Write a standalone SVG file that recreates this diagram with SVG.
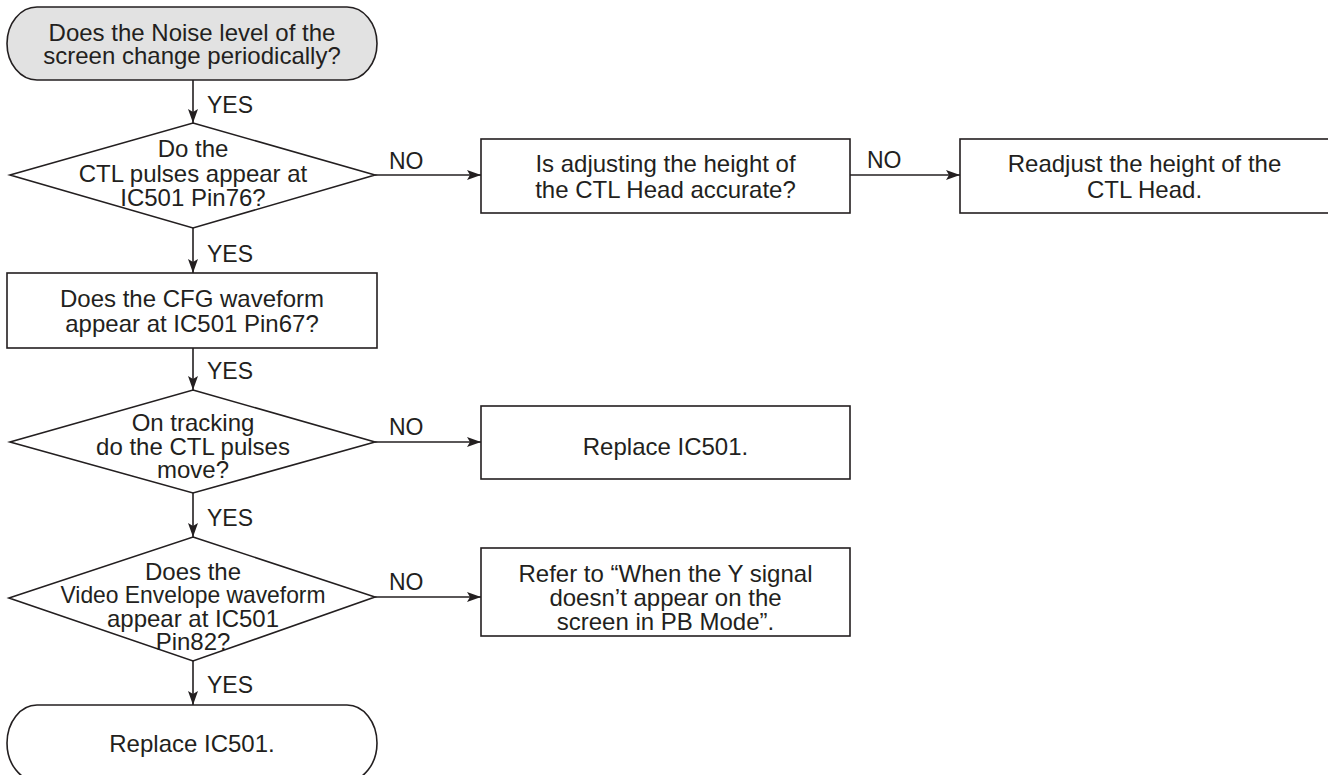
<svg xmlns="http://www.w3.org/2000/svg" width="1328" height="775" viewBox="0 0 1328 775">
<style>
.shape{fill:#ffffff;stroke:#231f20;stroke-width:1.6}
.start{fill:#e2e2e2;stroke:#231f20;stroke-width:1.6}
.t{font-family:"Liberation Sans",Arial,sans-serif;font-size:24px;fill:#231f20;text-anchor:middle}
.lbl{font-family:"Liberation Sans",Arial,sans-serif;font-size:23px;fill:#231f20}
.conn{fill:none;stroke:#231f20;stroke-width:1.6;marker-end:url(#arr)}
</style>
<defs>
<marker id="arr" viewBox="0 0 14 10" refX="14" refY="5" markerWidth="14" markerHeight="10" orient="auto" markerUnits="userSpaceOnUse">
<path d="M0,0 L14,5 L0,10 L3,5 Z" fill="#231f20"/>
</marker>
</defs>
<rect width="1328" height="775" fill="#ffffff"/>

<g id="connectors">
<line class="conn" x1="193" y1="80" x2="193" y2="123"/>
<line class="conn" x1="375" y1="175" x2="481" y2="175"/>
<line class="conn" x1="850" y1="175" x2="960" y2="175"/>
<line class="conn" x1="193" y1="228" x2="193" y2="273"/>
<line class="conn" x1="193" y1="348" x2="193" y2="390"/>
<line class="conn" x1="375" y1="442" x2="481" y2="442"/>
<line class="conn" x1="193" y1="493" x2="193" y2="537"/>
<line class="conn" x1="375" y1="597" x2="481" y2="597"/>
<line class="conn" x1="193" y1="661" x2="193" y2="705"/>
<text class="lbl" x="207" y="113">YES</text>
<text class="lbl" x="389" y="169">NO</text>
<text class="lbl" x="867" y="168">NO</text>
<text class="lbl" x="207" y="262">YES</text>
<text class="lbl" x="207" y="379">YES</text>
<text class="lbl" x="389" y="435">NO</text>
<text class="lbl" x="207" y="526">YES</text>
<text class="lbl" x="389" y="590">NO</text>
<text class="lbl" x="207" y="693">YES</text>
</g>

<g id="start">
<path class="start" d="M37,7 H347 A30,36.5 0 0 1 347,80 H37 A30,36.5 0 0 1 37,7 Z"/>
<text class="t" x="192" y="41">Does the Noise level of the</text>
<text class="t" x="192" y="64">screen change periodically?</text>
</g>

<g id="q-ctl-pulses">
<polygon class="shape" points="193,123 375,175 193,228 10,175"/>
<text class="t" x="193" y="157">Do the</text>
<text class="t" x="193" y="182">CTL pulses appear at</text>
<text class="t" x="193" y="206">IC501 Pin76?</text>
</g>

<g id="q-ctl-height">
<rect class="shape" x="481" y="139" width="369" height="74"/>
<text class="t" x="665.5" y="172">Is adjusting the height of</text>
<text class="t" x="665.5" y="198">the CTL Head accurate?</text>
</g>

<g id="readjust">
<rect class="shape" x="960" y="139" width="380" height="74"/>
<text class="t" x="1144.5" y="172">Readjust the height of the</text>
<text class="t" x="1144.5" y="198">CTL Head.</text>
</g>

<g id="q-cfg">
<rect class="shape" x="7" y="273" width="370" height="75"/>
<text class="t" x="192" y="307">Does the CFG waveform</text>
<text class="t" x="192" y="332">appear at IC501 Pin67?</text>
</g>

<g id="q-tracking">
<polygon class="shape" points="193,390 375,442 193,493 10,442"/>
<text class="t" x="193" y="431">On tracking</text>
<text class="t" x="193" y="455">do the CTL pulses</text>
<text class="t" x="193" y="478">move?</text>
</g>

<g id="replace-1">
<rect class="shape" x="481" y="406" width="369" height="73"/>
<text class="t" x="665.5" y="455">Replace IC501.</text>
</g>

<g id="q-video-env">
<polygon class="shape" points="193,537 375,597 193,661 9,598"/>
<text class="t" x="193" y="580">Does the</text>
<text class="t" x="193" y="603" textLength="265" lengthAdjust="spacingAndGlyphs">Video Envelope waveform</text>
<text class="t" x="193" y="627">appear at IC501</text>
<text class="t" x="193" y="650">Pin82?</text>
</g>

<g id="refer">
<rect class="shape" x="481" y="548" width="369" height="88"/>
<text class="t" x="665.5" y="582">Refer to “When the Y signal</text>
<text class="t" x="665.5" y="606">doesn’t appear on the</text>
<text class="t" x="665.5" y="630">screen in PB Mode”.</text>
</g>

<g id="replace-end">
<path class="shape" d="M37,705 H347 A30,38 0 0 1 347,781 H37 A30,38 0 0 1 37,705 Z"/>
<text class="t" x="192" y="752">Replace IC501.</text>
</g>
</svg>
